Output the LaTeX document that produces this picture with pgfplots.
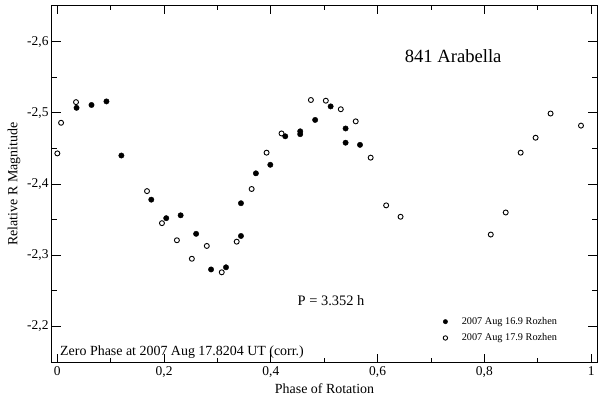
\documentclass[border=0pt]{standalone}
\usepackage{fontspec}
\setmainfont{Liberation Serif}
\usepackage{pgfplots}
\pgfplotsset{compat=1.18}

% lightcurve data, phase vs relative R mag
\pgfplotstableread{
x y
0.036 -2.507
0.064 -2.511
0.092 -2.516
0.120 -2.440
0.176 -2.378
0.204 -2.352
0.231 -2.356
0.260 -2.330
0.288 -2.280
0.316 -2.283
0.344 -2.327
0.344 -2.373
0.372 -2.415
0.399 -2.427
0.427 -2.467
0.455 -2.470
0.455 -2.474
0.483 -2.490
0.512 -2.509
0.540 -2.478
0.540 -2.458
0.567 -2.455
}\augsixteen
\pgfplotstableread{
x y
0.000 -2.443
0.007 -2.486
0.035 -2.515
0.168 -2.390
0.196 -2.345
0.224 -2.321
0.252 -2.295
0.280 -2.313
0.308 -2.276
0.336 -2.319
0.364 -2.393
0.392 -2.444
0.420 -2.471
0.475 -2.518
0.503 -2.517
0.531 -2.505
0.559 -2.488
0.587 -2.437
0.616 -2.370
0.643 -2.354
0.812 -2.329
0.840 -2.360
0.868 -2.444
0.896 -2.465
0.924 -2.499
0.981 -2.482
}\augseventeen

% legend image: mark at 5bp, blank room up to 19bp before the text
\pgfplotsset{
    legimg/.style={legend image code/.code={%
        \path (0bp,0bp) (19bp,0bp);
        \draw[mark repeat=2,mark phase=2,##1] plot coordinates {(0bp,0bp) (5bp,0bp) (19bp,0bp)};}},
}

\begin{document}
\begin{tikzpicture}
\begin{axis}[
    scale only axis,
    width=545bp, height=357.4bp,
    xmin=-0.01, xmax=1.011,
    ymin=-2.651, ymax=-2.149,
    y dir=reverse,
    xtick={0,0.2,0.4,0.6,0.8,1},
    ytick={-2.6,-2.5,-2.4,-2.3,-2.2},
    minor x tick num=1,
    minor y tick num=1,
    tick align=inside,
    major tick length=9bp,
    minor tick length=5bp,
    tick style={black, line width=0.9bp},
    axis line style={line width=1bp},
    /pgf/number format/use comma,
    /pgf/number format/assume math mode=true,
    tick label style={font=\fontsize{13.5}{15}\selectfont},
    label style={font=\fontsize{14}{16}\selectfont},
    xlabel={Phase of Rotation},
    ylabel={Relative R Magnitude},
    xlabel style={at={(axis description cs:0.5,-0.0736)}, anchor=center},
    ylabel style={at={(axis description cs:-0.0697,0.5)}, anchor=center},
    clip=false,
    reverse legend,
    legend style={draw=none, fill=none, at={(axis description cs:0.706,0.1386)}, anchor=north west,
        font=\fontsize{10.3}{12}\selectfont, row sep=3.7bp},
    legend cell align=left,
    legend image post style={mark size=2.2bp},
]
\addplot[only marks, legimg, mark=o, mark size=2.5bp, line width=0.9bp, black] table {\augseventeen};
\addlegendentry{2007 Aug 17.9 Rozhen}
\addplot[only marks, legimg, mark=*, mark size=2.7bp, black, fill=black] table {\augsixteen};
\addlegendentry{2007 Aug 16.9 Rozhen}

\node[anchor=base, font=\fontsize{18.7}{21}\selectfont] at (axis description cs:0.736,0.8405) {841 Arabella};
\node[anchor=base, font=\fontsize{14.5}{16}\selectfont] at (axis description cs:0.512,0.1595) {P = 3.352 h};
\node[anchor=base west, inner sep=0pt, font=\fontsize{14}{16}\selectfont] at (axis description cs:0.0147,0.0215) {Zero Phase at 2007 Aug 17.8204 UT (corr.)};

\coordinate (bbsw) at (axis description cs:0,0);
\coordinate (bbne) at (axis description cs:1,1);
\end{axis}
\pgfresetboundingbox
\useasboundingbox ([shift={(-52bp,-35.3bp)}]bbsw) rectangle ([shift={(3bp,5.3bp)}]bbne);
\end{tikzpicture}
\end{document}
